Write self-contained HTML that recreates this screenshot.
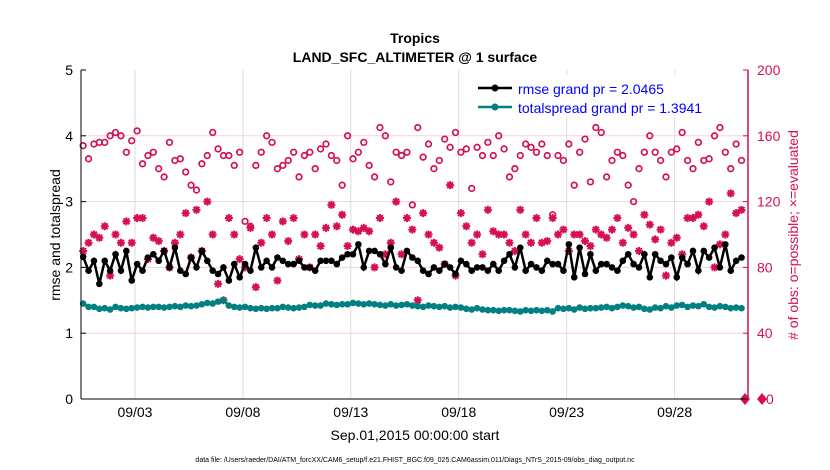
<!DOCTYPE html>
<html><head><meta charset="utf-8"><style>
body{margin:0;background:#fff;}
svg{display:block;font-family:"Liberation Sans",sans-serif;}
</style></head><body>
<svg id="chart" width="830" height="470">
<rect width="830" height="470" fill="#fff"/>
<g id="grid"></g>
<g id="marks"></g>
<g id="axes"></g>
<text x="415" y="43" text-anchor="middle" font-size="14" font-weight="bold">Tropics</text>
<text x="415" y="62" text-anchor="middle" font-size="14" font-weight="bold">LAND_SFC_ALTIMETER @ 1 surface</text>
<text x="415" y="440" text-anchor="middle" font-size="14">Sep.01,2015 00:00:00 start</text>
<text x="415" y="462" text-anchor="middle" font-size="7">data file: /Users/raeder/DAI/ATM_forcXX/CAM6_setup/f.e21.FHIST_BGC.f09_025.CAM6assim.011/Diags_NTrS_2015-09/obs_diag_output.nc</text>
<text transform="translate(60,235) rotate(-90)" text-anchor="middle" font-size="14">rmse and totalspread</text>
<text transform="translate(798,235) rotate(-90)" text-anchor="middle" font-size="14" fill="#d6104f"># of obs: o=possible; ×=evaluated</text>
<g>
<rect x="473" y="75" width="272" height="42" fill="#fff"/>
<line x1="478" y1="88" x2="512" y2="88" stroke="#000" stroke-width="2.5"/>
<circle cx="495" cy="88" r="3.5" fill="#000"/>
<text x="518" y="94" font-size="14" fill="#0000ff">rmse grand pr = 2.0465</text>
<line x1="478" y1="107" x2="512" y2="107" stroke="#008080" stroke-width="2.5"/>
<circle cx="495" cy="107" r="3.5" fill="#008080"/>
<text x="518" y="113" font-size="14" fill="#0000ff">totalspread grand pr = 1.3941</text>
</g>
</svg>
<script>
const rmse=[2.16,1.95,2.10,1.75,2.10,1.95,2.20,1.95,2.25,1.80,
2.05,1.95,2.15,2.20,2.10,2.25,2.00,2.30,1.95,1.90,
2.15,2.00,2.25,2.10,1.95,1.90,2.00,1.80,2.05,1.85,
2.05,1.95,2.30,2.00,2.10,2.00,2.15,2.10,2.05,2.05,
2.10,2.00,2.00,1.95,2.10,2.10,2.10,2.05,2.15,2.20,
2.20,2.35,2.00,2.25,2.25,2.20,2.05,2.30,2.00,1.95,
2.25,2.15,2.10,1.95,1.90,2.00,1.95,2.05,2.00,1.90,
2.10,2.05,1.95,2.00,2.00,1.95,2.05,1.95,2.10,2.20,
2.00,2.30,1.95,2.05,2.00,1.95,2.10,2.05,2.05,1.95,
2.35,1.85,2.30,1.90,2.20,1.95,2.05,2.05,2.00,1.95,
2.10,2.20,2.05,2.00,2.20,1.85,2.20,2.10,2.05,2.15,
1.85,2.15,2.05,2.25,1.95,2.25,2.15,2.30,2.00,2.35,
1.95,2.10,2.15];
const spread=[1.45,1.40,1.40,1.37,1.38,1.36,1.40,1.38,1.37,1.38,
1.39,1.40,1.39,1.40,1.40,1.39,1.40,1.41,1.40,1.42,
1.41,1.42,1.44,1.46,1.45,1.48,1.50,1.42,1.40,1.39,
1.40,1.38,1.37,1.38,1.37,1.38,1.38,1.40,1.39,1.38,
1.39,1.40,1.43,1.42,1.42,1.45,1.44,1.43,1.44,1.44,
1.46,1.45,1.44,1.45,1.44,1.43,1.42,1.44,1.42,1.43,
1.44,1.42,1.41,1.40,1.42,1.41,1.40,1.41,1.39,1.40,
1.39,1.37,1.36,1.38,1.36,1.35,1.35,1.34,1.35,1.35,
1.34,1.33,1.35,1.34,1.35,1.34,1.35,1.33,1.38,1.37,
1.38,1.36,1.39,1.37,1.38,1.38,1.39,1.40,1.38,1.40,
1.42,1.41,1.39,1.40,1.37,1.36,1.39,1.38,1.41,1.39,
1.42,1.43,1.40,1.42,1.41,1.44,1.40,1.39,1.41,1.40,
1.38,1.39,1.38];
const possible=[154,146,155,156,156,160,162,160,150,157,
163,143,148,150,140,135,156,145,146,138,
130,127,143,148,162,152,148,148,142,150,
108,105,142,150,160,156,140,142,145,150,
135,148,150,140,152,155,148,145,130,160,
146,150,156,142,135,165,160,132,150,148,
150,118,165,147,155,140,145,158,153,162,
150,152,128,153,148,156,148,160,152,135,
140,148,155,153,150,155,148,112,148,145,
155,130,150,158,132,165,162,135,145,150,
148,130,120,140,150,160,150,145,135,150,
152,162,145,140,156,145,146,160,165,150,
140,155,145];
const evaluated=[90,95,100,98,105,75,100,95,108,95,
110,110,85,98,96,90,80,95,100,113,
86,115,90,120,100,70,60,110,100,85,
80,104,68,95,110,100,72,108,96,110,
85,100,80,100,93,104,118,105,112,93,
103,102,104,102,80,110,88,95,120,88,
110,103,60,113,100,95,92,82,130,75,
113,105,95,100,88,115,102,100,100,95,
90,115,100,95,110,95,96,110,100,103,
90,100,100,96,93,103,100,98,103,110,
95,104,100,90,112,106,97,103,75,95,
98,88,110,110,112,105,120,80,94,100,
125,113,115];
const xTickLabels=["09/03","09/08","09/13","09/18","09/23","09/28"];
const xTickDays=[2.4,7.4,12.4,17.4,22.4,27.4];
const leftTicks=[0,1,2,3,4,5];
const rightTicks=[0,40,80,120,160,200];

const NS="http://www.w3.org/2000/svg";
const X0=81,X1=748,Y0=399,Y1=70;
const dayMin=-0.1,dayMax=30.8;
const xs=d=>X0+(d-dayMin)/(dayMax-dayMin)*(X1-X0);
const yl=v=>Y0-v/5*(Y0-Y1);
const yr=v=>Y0-v/200*(Y0-Y1);
const dayOf=i=>i*0.25;
function mk(tag,attrs,parent){const e=document.createElementNS(NS,tag);for(const k in attrs)e.setAttribute(k,attrs[k]);parent.appendChild(e);return e;}
const grid=document.getElementById('grid'),marks=document.getElementById('marks'),axes=document.getElementById('axes');
xTickDays.forEach((d,i)=>{
 const l=mk('line',{x1:xs(d),x2:xs(d),y1:Y1,y2:Y0,stroke:'#dcdcdc','stroke-width':1},grid);
 
 
 const t=mk('text',{x:xs(d),y:Y0+18,'text-anchor':'middle','font-size':14},axes);
 t.textContent=xTickLabels[i];
 
 
});
rightTicks.forEach(v=>{
 if(v>0&&v<200){const l=mk('line',{x1:X0,x2:X1,y1:yr(v),y2:yr(v),stroke:'#f3d4dc','stroke-width':1},grid);
 
 }
 const t=mk('text',{x:v===0?X1+18:X1+9,y:yr(v)+5,'font-size':14,fill:'#d6104f'},axes);
 t.textContent=v;
 
 
 mk('line',{x1:X1-5,x2:X1,y1:yr(v),y2:yr(v),stroke:'#d6104f'},axes);
});
leftTicks.forEach(v=>{
 const t=mk('text',{x:X0-8,y:yl(v)+5,'text-anchor':'end','font-size':14},axes);
 t.textContent=v;
 
 
 mk('line',{x1:X0,x2:X0+5,y1:yl(v),y2:yl(v),stroke:'#000'},axes);
});
mk('line',{x1:X0,x2:X0,y1:Y1,y2:Y0,stroke:'#000'},axes);
mk('line',{x1:X0,x2:X1,y1:Y0,y2:Y0,stroke:'#000'},axes);
mk('line',{x1:X1,x2:X1,y1:Y1,y2:Y0,stroke:'#d6104f','stroke-width':1.5},axes);
possible.forEach((v,i)=>{
 const c=mk('circle',{cx:xs(dayOf(i)),cy:yr(v),r:2.8,fill:'none',stroke:'#d6104f','stroke-width':1.7},marks);
 
 
});
evaluated.forEach((v,i)=>{
 const x=xs(dayOf(i)),y=yr(v),r=4,d=2.9;
 const p=mk('path',{d:`M${x-r},${y}h${2*r}M${x},${y-r}v${2*r}M${x-d},${y-d}l${2*d},${2*d}M${x-d},${y+d}l${2*d},${-2*d}`,stroke:'#d6104f','stroke-width':2,fill:'none'},marks);
 
 
});
function series(arr,col,name){
 const pts=arr.map((v,i)=>xs(dayOf(i)).toFixed(1)+','+yl(v).toFixed(1)).join(' ');
 const p=mk('polyline',{points:pts,fill:'none',stroke:col,'stroke-width':2.5},marks);
 
 
 arr.forEach((v,i)=>{
  const c=mk('circle',{cx:xs(dayOf(i)),cy:yl(v),r:3.3,fill:col},marks);
  
  
 });
}
series(spread,'#008080','totalspread');
series(rmse,'#000000','rmse');
const dm=mk('path',{d:'M745,393 L750,399 L745,405 L740,399 Z',fill:'#d6104f'},marks);


const dm2=mk('path',{d:'M762,393 L767,399 L762,405 L757,399 Z',fill:'#d6104f'},marks);


</script>
</body></html>
